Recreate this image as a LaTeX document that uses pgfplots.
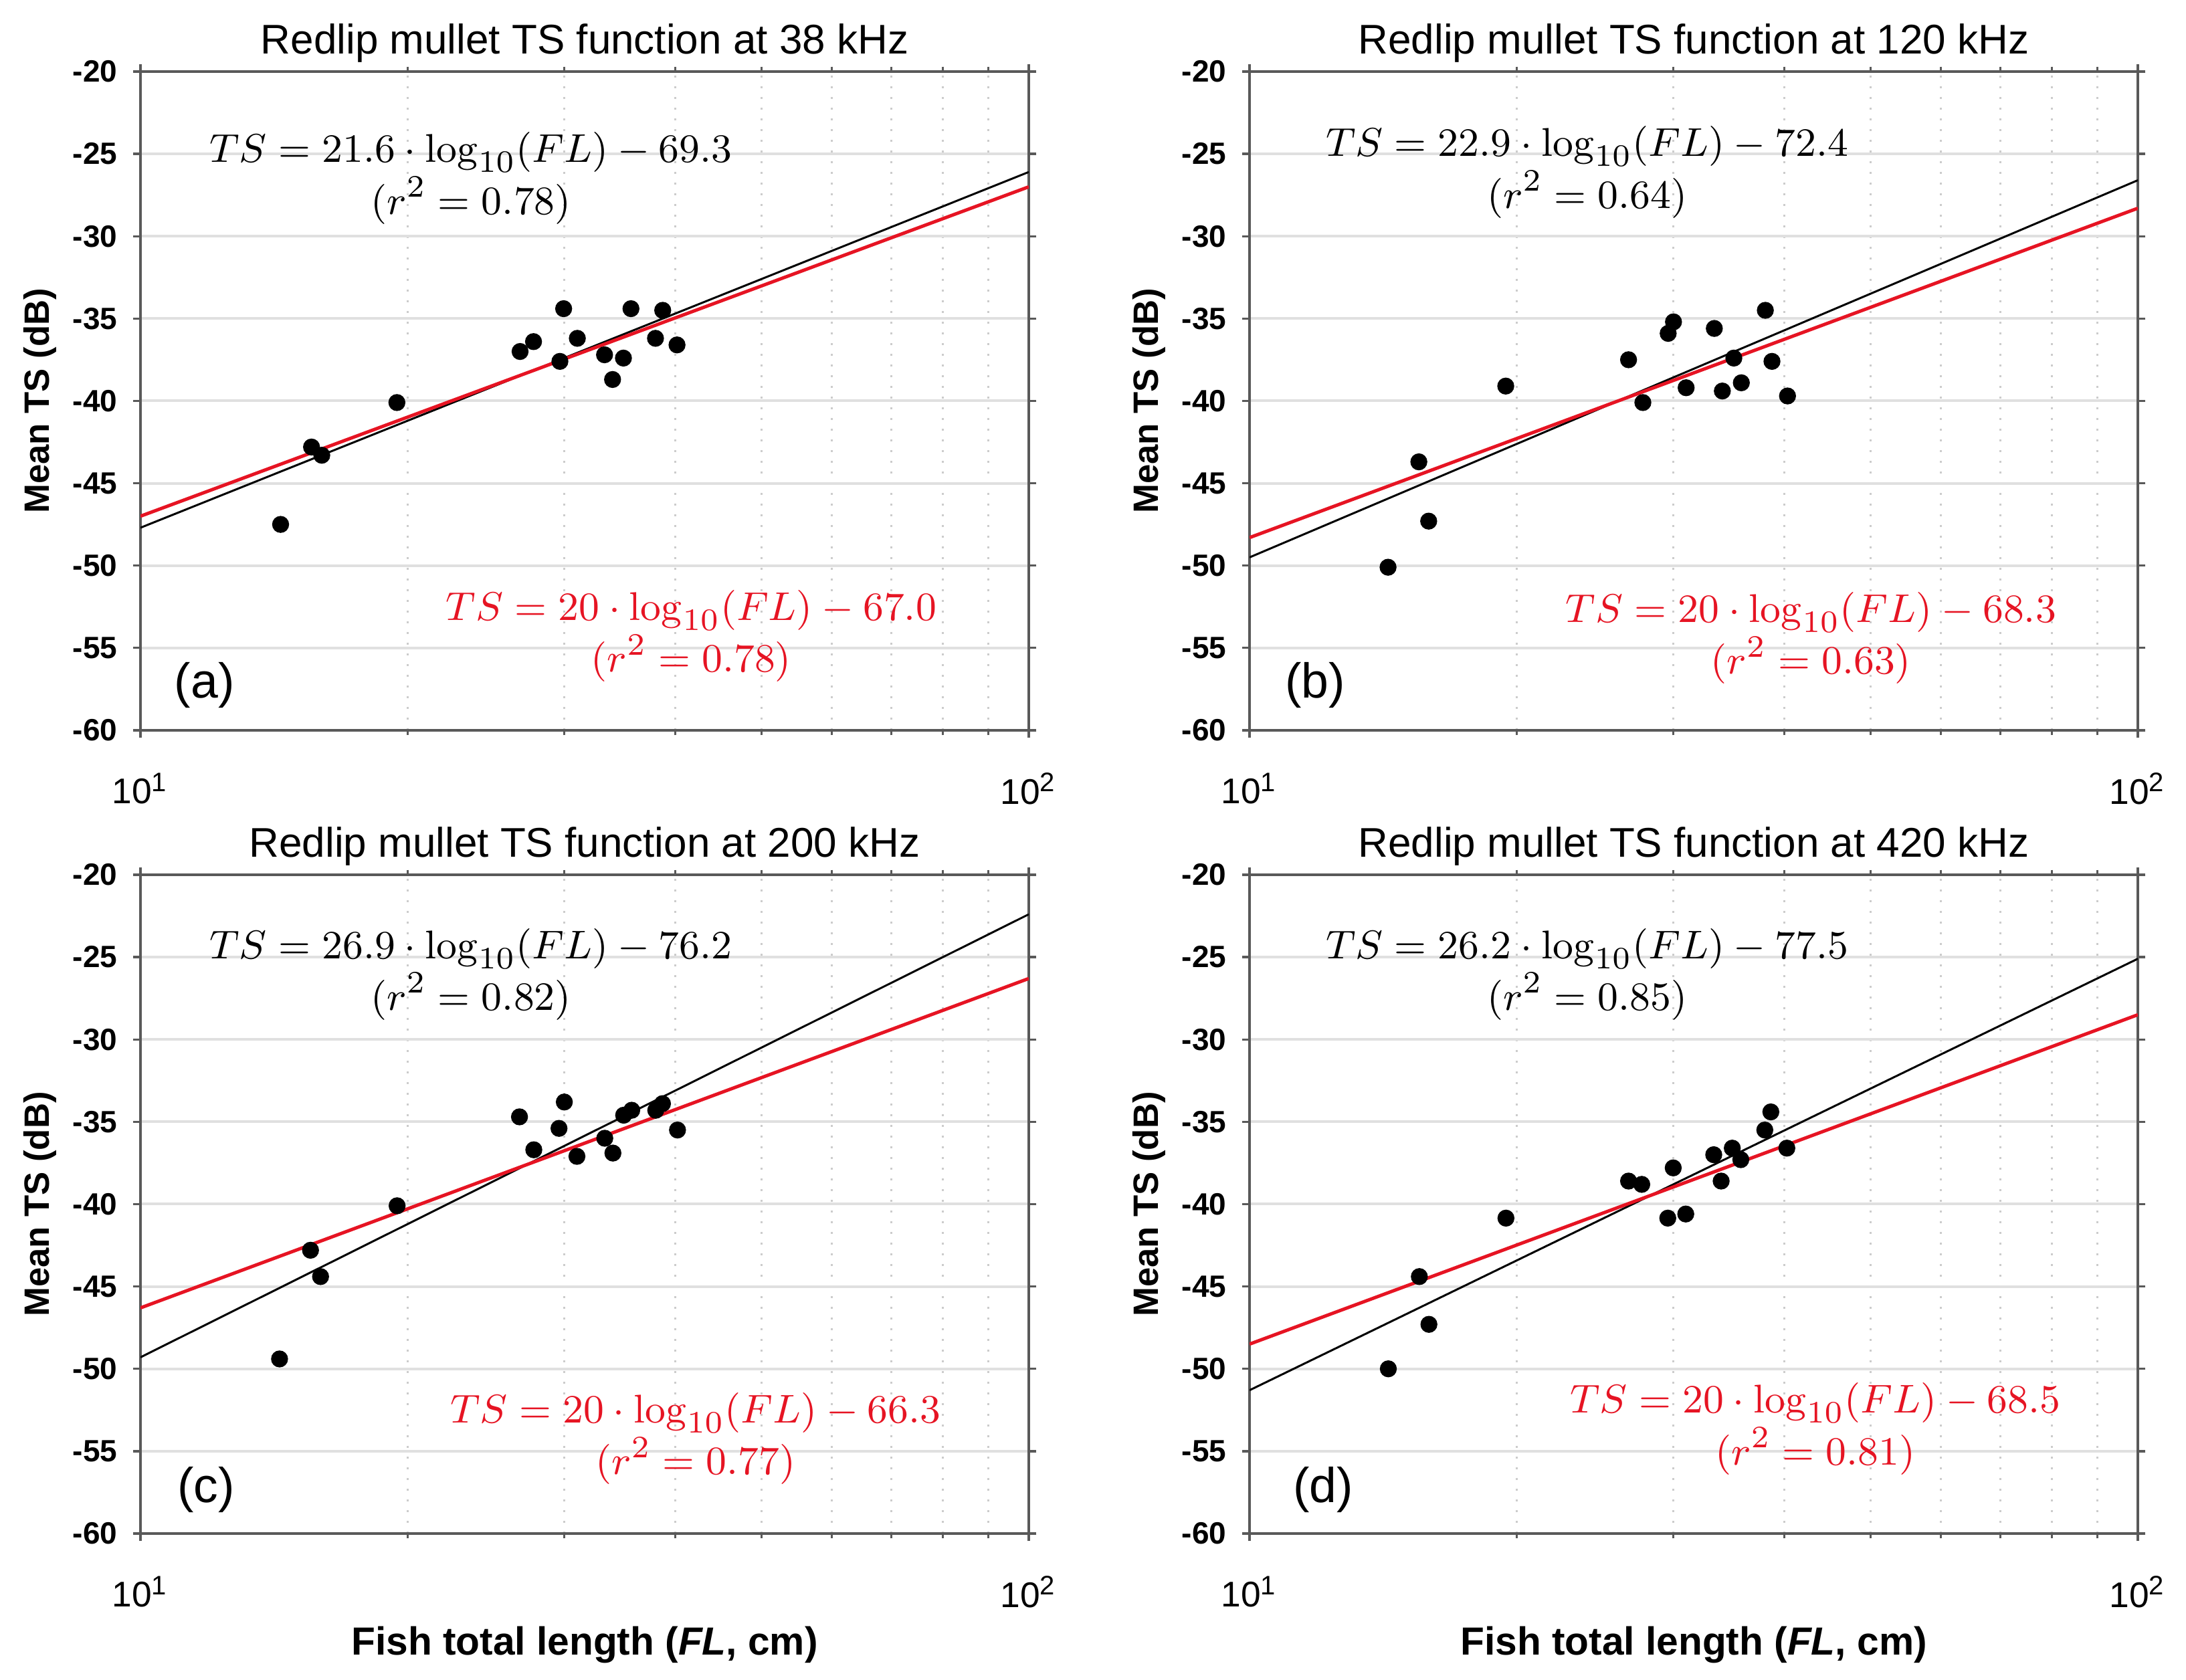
\documentclass[border=0pt]{standalone}
\usepackage[no-math]{fontspec}
\setmainfont{Liberation Sans}
\usepackage{pgfplots}
\pgfplotsset{compat=1.18}
\definecolor{myred}{RGB}{230,20,35}
\pgfplotsset{
  scale only axis, width=199.2pt, height=147.75pt,
  xmin=10, xmax=100, ymin=-60, ymax=-20,
  xtick={10,100}, xticklabels={10\textsuperscript{1},10\textsuperscript{2}},
  minor xtick={20,30,40,50,60,70,80,90},
  ytick={-60,-55,-50,-45,-40,-35,-30,-25,-20},
  yticklabels={-60,-55,-50,-45,-40,-35,-30,-25,-20},
  tick align=outside, tick pos=both,
  major tick length=1.7pt, minor tick length=1.1pt,
  ymajorgrids, xminorgrids,
  major grid style={draw=black!12, line width=0.6pt},
  minor grid style={draw=black!20, dotted, line width=0.4pt},
  axis line style={draw=black!65, line width=0.6pt},
  tick style={draw=black!65, line width=0.5pt},
  yticklabel style={font=\bfseries\fontsize{6.9}{7}\selectfont},
  xticklabel style={font=\fontsize{8}{8}\selectfont, yshift=-4.3pt},
  title style={font=\fontsize{9.3}{10}\selectfont, at={(0.5,1)}, anchor=base, yshift=-2.1pt},
  ylabel style={font=\bfseries\fontsize{7.9}{9}\selectfont, at={(axis description cs:-0.113,0.5)}, anchor=center},
  xlabel style={font=\bfseries\fontsize{8.8}{10}\selectfont, at={(axis description cs:0.5,-0.169)}, anchor=center},
}
\tikzset{
  mypts/.style={only marks, mark=*, mark size=1.7pt, black},
  myblk/.style={black, line width=0.45pt},
  myrd/.style={myred, line width=0.75pt},
  myeq/.style={align=center, font=\fontsize{9.4}{11.6}\selectfont},
  mylab/.style={font=\fontsize{11}{12}\selectfont},
}
\begin{document}
\begin{tikzpicture}
\path[use as bounding box] (0,0) rectangle (490.2pt,376.8pt);
% (a)
\begin{semilogxaxis}[at={(31.5pt,360.75pt)}, anchor=north west,
  title={Redlip mullet TS function at 38 kHz}, ylabel={Mean TS (dB)}]
\addplot[mypts] coordinates {
(14.38,-47.5) (15.58,-42.8) (16.0,-43.3) (19.44,-40.1) (26.75,-37.0) (27.7,-36.4)
(29.66,-37.6) (29.95,-34.4) (31.03,-36.2) (33.3,-37.2) (34.0,-38.7) (34.97,-37.4)
(35.66,-34.4) (38.0,-36.2) (38.72,-34.5) (40.18,-36.6)};
\addplot[myblk, no marks] coordinates {(10,-47.7) (100,-26.1)};
\addplot[myrd, no marks] coordinates {(10,-47.0) (100,-27.0)};
\node[myeq] at (rel axis cs:0.372,0.838) {$TS = 21.6\cdot\log_{10}(FL) - 69.3$\\$(r^2 = 0.78)$};
\node[myeq, text=myred] at (rel axis cs:0.62,0.143) {$TS = 20\cdot\log_{10}(FL) - 67.0$\\$(r^2 = 0.78)$};
\node[mylab] at (rel axis cs:0.072,0.068) {(a)};
\end{semilogxaxis}
% (b)
\begin{semilogxaxis}[at={(280.2pt,360.75pt)}, anchor=north west,
  title={Redlip mullet TS function at 120 kHz}, ylabel={Mean TS (dB)}]
\addplot[mypts] coordinates {
(14.32,-50.1) (15.51,-43.7) (15.91,-47.3) (19.43,-39.1) (26.71,-37.5) (27.72,-40.1)
(29.6,-35.9) (30.01,-35.2) (31.01,-39.2) (33.36,-35.6) (34.06,-39.4) (35.09,-37.4)
(35.78,-38.9) (38.08,-34.5) (38.74,-37.6) (40.33,-39.7)};
\addplot[myblk, no marks] coordinates {(10,-49.5) (100,-26.6)};
\addplot[myrd, no marks] coordinates {(10,-48.3) (100,-28.3)};
\node[myeq] at (rel axis cs:0.38,0.847) {$TS = 22.9\cdot\log_{10}(FL) - 72.4$\\$(r^2 = 0.64)$};
\node[myeq, text=myred] at (rel axis cs:0.632,0.14) {$TS = 20\cdot\log_{10}(FL) - 68.3$\\$(r^2 = 0.63)$};
\node[mylab] at (rel axis cs:0.074,0.068) {(b)};
\end{semilogxaxis}
% (c)
\begin{semilogxaxis}[at={(31.5pt,180.6pt)}, anchor=north west,
  title={Redlip mullet TS function at 200 kHz}, ylabel={Mean TS (dB)},
  xlabel={Fish total length (\textit{FL}, cm)}]
\addplot[mypts] coordinates {
(14.34,-49.4) (15.54,-42.8) (15.95,-44.4) (19.45,-40.1) (26.71,-34.7) (27.72,-36.7)
(29.59,-35.4) (30.0,-33.8) (31.0,-37.1) (33.32,-36.0) (34.03,-36.9) (34.99,-34.6)
(35.73,-34.3) (38.03,-34.3) (38.7,-33.9) (40.23,-35.5)};
\addplot[myblk, no marks] coordinates {(10,-49.3) (100,-22.4)};
\addplot[myrd, no marks] coordinates {(10,-46.3) (100,-26.3)};
\node[myeq] at (rel axis cs:0.372,0.849) {$TS = 26.9\cdot\log_{10}(FL) - 76.2$\\$(r^2 = 0.82)$};
\node[myeq, text=myred] at (rel axis cs:0.625,0.144) {$TS = 20\cdot\log_{10}(FL) - 66.3$\\$(r^2 = 0.77)$};
\node[mylab] at (rel axis cs:0.074,0.066) {(c)};
\end{semilogxaxis}
% (d)
\begin{semilogxaxis}[at={(280.2pt,180.6pt)}, anchor=north west,
  title={Redlip mullet TS function at 420 kHz}, ylabel={Mean TS (dB)},
  xlabel={Fish total length (\textit{FL}, cm)}]
\addplot[mypts] coordinates {
(14.33,-50.0) (15.53,-44.4) (15.92,-47.3) (19.44,-40.85) (26.71,-38.6) (27.64,-38.8)
(29.57,-40.85) (29.99,-37.8) (30.98,-40.6) (33.31,-37.0) (33.96,-38.6) (34.95,-36.6)
(35.73,-37.3) (38.03,-35.5) (38.63,-34.4) (40.26,-36.6)};
\addplot[myblk, no marks] coordinates {(10,-51.3) (100,-25.1)};
\addplot[myrd, no marks] coordinates {(10,-48.5) (100,-28.5)};
\node[myeq] at (rel axis cs:0.38,0.849) {$TS = 26.2\cdot\log_{10}(FL) - 77.5$\\$(r^2 = 0.85)$};
\node[myeq, text=myred] at (rel axis cs:0.637,0.159) {$TS = 20\cdot\log_{10}(FL) - 68.5$\\$(r^2 = 0.81)$};
\node[mylab] at (rel axis cs:0.083,0.066) {(d)};
\end{semilogxaxis}
\end{tikzpicture}
\end{document}
